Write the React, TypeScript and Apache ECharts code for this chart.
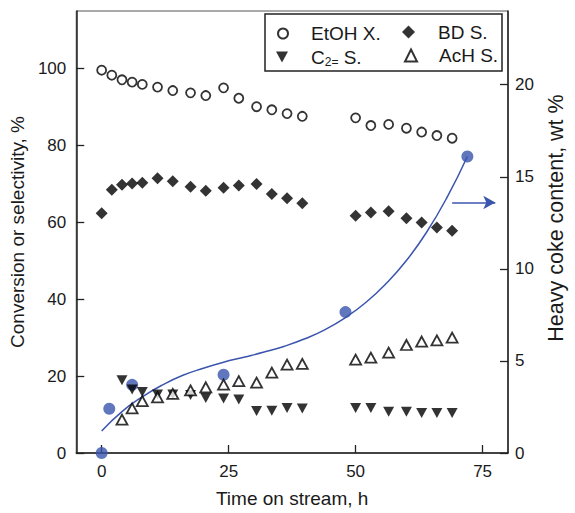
import React, { useEffect, useRef } from "react";
import * as echarts from "echarts";

const TIME = [0, 2, 4, 6, 8, 11, 14, 17.5, 20.5, 24, 27, 30.5, 33.5, 36.5, 39.5, 50, 53, 56.5, 60, 63, 66, 69];
const ETOH_X = [99.6, 98.3, 97.1, 96.5, 95.9, 95.2, 94.3, 93.7, 93.0, 95.0, 92.3, 90.1, 89.3, 88.3, 87.6, 87.2, 85.2, 85.5, 84.5, 83.5, 82.6, 81.9];
const BD_S = [62.4, 68.5, 69.8, 70.1, 70.3, 71.5, 70.7, 69.3, 68.2, 69.0, 69.6, 70.0, 67.4, 66.3, 65.0, 61.7, 62.6, 62.9, 61.1, 60.0, 58.7, 57.8];
const TIME_B = [4, 6, 8, 11, 14, 17.5, 20.5, 24, 27, 30.5, 33.5, 36.5, 39.5, 50, 53, 56.5, 60, 63, 66, 69];
const C2_S = [18.9, 16.5, 15.9, 15.2, 15.2, 15.1, 14.3, 14.2, 13.9, 10.9, 11.0, 11.7, 11.6, 11.7, 11.7, 10.7, 10.7, 10.4, 10.4, 10.4];
const ACH_S = [8.7, 11.6, 13.5, 14.5, 15.4, 16.3, 17.1, 17.8, 18.7, 18.3, 20.9, 23.0, 23.2, 24.3, 24.8, 26.1, 28.1, 29.0, 29.3, 30.0];
const COKE_TIME = [0, 1.5, 6, 24, 48, 72];
const COKE = [0, 2.4, 3.7, 4.25, 7.65, 16.1];
const FIT_TIME = [0, 4, 8, 12, 16, 20, 24, 28, 32, 36, 40, 44, 48, 52, 56, 60, 64, 68, 72];
const FIT = [1.2, 2.25, 3.05, 3.7, 4.22, 4.6, 4.93, 5.2, 5.48, 5.8, 6.2, 6.7, 7.35, 8.17, 9.2, 10.45, 12.0, 13.88, 16.1];
const X_TICKS = [0, 25, 50, 75];
const Y_LEFT_TICKS = [0, 20, 40, 60, 80, 100];
const Y_RIGHT_TICKS = [0, 5, 10, 15, 20];
const ARROW_FROM = [69, 13.6];
const ARROW_TO = [77.5, 13.6];

const FONT = "Liberation Sans, Arial, Helvetica, sans-serif";
const BLUE = "#3a55ad";
const INK = "#1a1a1a";

const zip = (xs: number[], ys: number[]) => xs.map((x, i) => [x, ys[i]]);

export default function App() {
  const ref = useRef<HTMLDivElement>(null);
  useEffect(() => {
    if (!ref.current) return;
    const chart = echarts.init(ref.current, null, { renderer: "svg" });
    const mkLegend = (item: any, left: number, top: number, size: number, padLeft: number) => ({
      data: [item],
      left,
      top,
      padding: 0,
      itemWidth: size,
      itemHeight: size,
      selectedMode: false,
      textStyle: {
        fontFamily: FONT,
        fontSize: 19,
        color: INK,
        padding: [0, 0, 0, padLeft],
        rich: {
          a: { fontFamily: FONT, fontSize: 19, color: INK, lineHeight: 22 },
          s: { fontFamily: FONT, fontSize: 12, color: INK, lineHeight: 22, verticalAlign: "bottom", padding: [10, 0, 0, 0] },
        },
      },
      formatter: (n: string) => (n === "C2= S." ? "{a|C}{s|2=}{a| S.}" : n),
    });
    const axisLabel = { fontFamily: FONT, fontSize: 17, color: INK };
    chart.setOption({
      animation: false,
      backgroundColor: "#fff",
      grid: { left: 75, right: 54, top: 11, bottom: 58, show: true, borderColor: "#555", borderWidth: 1 },
      legend: [
        mkLegend("EtOH X.", 277, 24, 10, 18),
        mkLegend("BD S.", 402, 22.5, 13, 18),
        mkLegend({ name: "C2= S.", icon: "path://M0 0L12 0L6 11Z", itemStyle: { color: "#000" } }, 276, 46, 12, 18),
        mkLegend("AcH S.", 404, 46, 12, 17),
      ],
      graphic: [
        { type: "rect", shape: { x: 265, y: 14, width: 237, height: 57 }, style: { fill: "none", stroke: "#222", lineWidth: 1.5 }, z: 100 },
      ],
      xAxis: {
        type: "value",
        min: -5,
        max: 80,
        name: "Time on stream, h",
        nameLocation: "middle",
        nameGap: 36,
        nameTextStyle: { fontFamily: FONT, fontSize: 19, color: INK },
        axisLine: { onZero: false, lineStyle: { color: "#222", width: 1.5 } },
        axisTick: { inside: true, length: 8, customValues: X_TICKS, lineStyle: { color: "#222", width: 1.3 } },
        axisLabel: { ...axisLabel, margin: 10, customValues: X_TICKS },
        splitLine: { show: false },
      },
      yAxis: [
        {
          type: "value",
          min: 0,
          max: 115,
          name: "Conversion or selectivity, %",
          nameLocation: "middle",
          nameGap: 43,
          nameTextStyle: { fontFamily: FONT, fontSize: 19, color: INK },
          axisLine: { show: true, onZero: false, lineStyle: { color: "#222", width: 1.5 } },
          axisTick: { show: true, inside: true, length: 8, customValues: Y_LEFT_TICKS, lineStyle: { color: "#222", width: 1.3 } },
          axisLabel: { ...axisLabel, margin: 10, customValues: Y_LEFT_TICKS },
          splitLine: { show: false },
        },
        {
          type: "value",
          position: "right",
          min: 0,
          max: 24,
          alignTicks: false,
          name: "Heavy coke content, wt %",
          nameLocation: "middle",
          nameRotate: 90,
          nameGap: 37,
          nameTextStyle: { fontFamily: FONT, fontSize: 21.5, color: INK, padding: [0, 0, 0, 28] },
          axisLine: { show: true, onZero: false, lineStyle: { color: "#222", width: 1.5 } },
          axisTick: { show: true, inside: true, length: 8, customValues: Y_RIGHT_TICKS, lineStyle: { color: "#222", width: 1.3 } },
          axisLabel: { ...axisLabel, margin: 7, customValues: Y_RIGHT_TICKS },
          splitLine: { show: false },
        },
      ],
      series: [
        {
          name: "Coke fit",
          type: "line",
          yAxisIndex: 1,
          data: zip(FIT_TIME, FIT),
          smooth: 0.5,
          showSymbol: false,
          symbol: "none",
          lineStyle: { color: BLUE, width: 1.5 },
          z: 1,
          markLine: {
            silent: true,
            symbol: ["none", "arrow"],
            symbolSize: [10, 12],
            label: { show: false },
            lineStyle: { color: BLUE, width: 1.5, type: "solid" },
            data: [[{ coord: ARROW_FROM }, { coord: ARROW_TO }]],
          },
        },
        {
          name: "Coke",
          type: "scatter",
          yAxisIndex: 1,
          data: zip(COKE_TIME, COKE),
          symbol: "circle",
          symbolSize: 12,
          itemStyle: { color: BLUE },
          z: 2,
        },
        {
          name: "EtOH X.",
          type: "scatter",
          data: zip(TIME, ETOH_X),
          symbol: "circle",
          symbolSize: 9,
          itemStyle: { color: "#fff", borderColor: "#000", borderWidth: 1.8 },
          z: 3,
        },
        {
          name: "BD S.",
          type: "scatter",
          data: zip(TIME, BD_S),
          symbol: "diamond",
          symbolSize: 12,
          itemStyle: { color: "#000" },
          z: 3,
        },
        {
          name: "C2= S.",
          type: "scatter",
          data: zip(TIME_B, C2_S),
          symbol: "triangle",
          symbolRotate: 180,
          symbolSize: [11, 10],
          itemStyle: { color: "#000" },
          z: 3,
        },
        {
          name: "AcH S.",
          type: "scatter",
          data: zip(TIME_B, ACH_S),
          symbol: "triangle",
          symbolSize: [11, 10],
          itemStyle: { color: "#fff", borderColor: "#000", borderWidth: 1.8 },
          z: 3,
        },
      ],
    });
    return () => chart.dispose();
  }, []);
  return <div ref={ref} style={{ position: "fixed", left: 0, top: 0, width: 575, height: 513 }} />;
}
